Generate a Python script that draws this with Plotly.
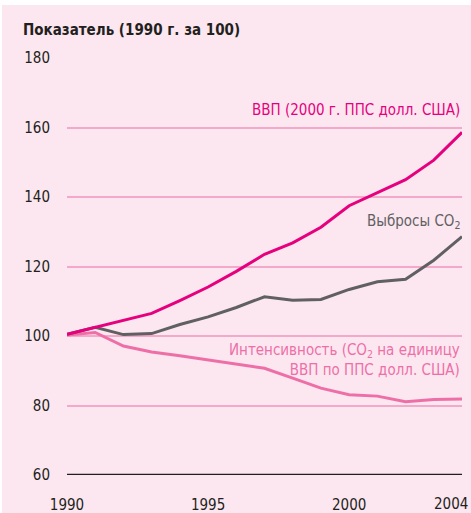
import plotly.graph_objects as go

years = list(range(1990, 2005))
gdp = [100.5, 102.5, 104.4, 106.5, 110.2, 114.1, 118.6, 123.5, 126.8, 131.3, 137.5, 141.2, 145.0, 150.6, 158.6]
co2 = [100.5, 102.5, 100.4, 100.7, 103.3, 105.5, 108.2, 111.3, 110.3, 110.5, 113.4, 115.6, 116.3, 121.8, 128.6]
intensity = [100.3, 101.0, 97.1, 95.4, 94.3, 93.1, 91.7, 90.7, 87.9, 85.0, 83.1, 82.7, 81.1, 81.7, 81.9]

y_ticks = [60, 80, 100, 120, 140, 160, 180]
x_ticks = [1990, 1995, 2000, 2004]

title_text = "Показатель (1990 г. за 100)"
gdp_label = "ВВП (2000 г. ППС долл. США)"
co2_label = "Выбросы CO<sub>2</sub>"
int_label = "Интенсивность (CO<sub>2</sub> на единицу<br>ВВП по ППС долл. США)"

FONT = "DejaVu Sans Condensed, Liberation Sans Narrow, sans-serif"
BG = "#FCE7F0"
C_GDP = "#E6007E"
C_CO2 = "#606062"
C_INT = "#EE6FA8"
GRID = "#F4A8CA"
TXT = "#231F20"

fig = go.Figure()
fig.add_trace(go.Scatter(x=years, y=intensity, mode="lines",
                         line=dict(color=C_INT, width=3), hoverinfo="skip"))
fig.add_trace(go.Scatter(x=years, y=co2, mode="lines",
                         line=dict(color=C_CO2, width=3), hoverinfo="skip"))
fig.add_trace(go.Scatter(x=years, y=gdp, mode="lines",
                         line=dict(color=C_GDP, width=3), hoverinfo="skip"))

fig.update_layout(
    width=471, height=513,
    margin=dict(l=67, r=9, t=58, b=38),
    paper_bgcolor=BG, plot_bgcolor=BG,
    showlegend=False,
    font=dict(family=FONT, size=15, color=TXT),
    xaxis=dict(range=[1990, 2004], tickvals=x_ticks[:-1],
               ticktext=[str(v) for v in x_ticks[:-1]],
               showgrid=False, zeroline=False, showline=False, ticks="",
               ticklabelstandoff=19, automargin=False,
               tickfont=dict(size=15, color=TXT)),
    yaxis=dict(range=[60, 180], tickvals=y_ticks, showgrid=True, gridcolor=GRID,
               gridwidth=1.5, zeroline=False, showline=False, ticks="",
               ticklabelstandoff=16, automargin=False,
               tickfont=dict(size=15, color=TXT)),
)

# last x tick label (kept inside the page, right-aligned like the original)
fig.add_annotation(text=str(x_ticks[-1]), xref="x", yref="paper", x=x_ticks[-1], y=0,
                   xanchor="right", yanchor="middle", xshift=8, yshift=-29,
                   showarrow=False, font=dict(size=15, color=TXT, family=FONT))

# baseline at 60
fig.add_shape(type="line", xref="paper", yref="y", x0=0, x1=1, y0=60, y1=60,
              line=dict(color=TXT, width=2.5), layer="above")

# white strips at top & left (outside pink panel)
fig.add_shape(type="rect", xref="paper", yref="paper",
              x0=-67/395, x1=404/395, y0=1 + 53/417, y1=1 + 70/417,
              line=dict(width=0), fillcolor="white", layer="below")
fig.add_shape(type="rect", xref="paper", yref="paper",
              x0=-80/395, x1=-65/395, y0=-60/417, y1=1 + 70/417,
              line=dict(width=0), fillcolor="white", layer="below")

fig.add_annotation(text="<b>" + title_text + "</b>", xref="paper", yref="paper",
                   x=-46/395, y=1 + 28/417, xanchor="left", yanchor="middle",
                   showarrow=False, font=dict(size=15, color=TXT, family=FONT))
fig.add_annotation(text=gdp_label, xref="paper", yref="paper",
                   x=1, y=1 - 52/417, xanchor="right", yanchor="middle",
                   showarrow=False, font=dict(size=15, color=C_GDP, family=FONT))
fig.add_annotation(text=co2_label, xref="paper", yref="paper",
                   x=1, y=1 - 163/417, xanchor="right", yanchor="middle",
                   showarrow=False, font=dict(size=15, color=C_CO2, family=FONT))
fig.add_annotation(text=int_label, xref="paper", yref="paper",
                   x=1, y=1 - 302/417, xanchor="right", yanchor="middle", align="right",
                   showarrow=False, font=dict(size=15, color=C_INT, family=FONT))

fig.write_html("out.html", config={"displayModeBar": False},
               post_script="document.body.style.margin='0';document.body.style.overflow='hidden';")
